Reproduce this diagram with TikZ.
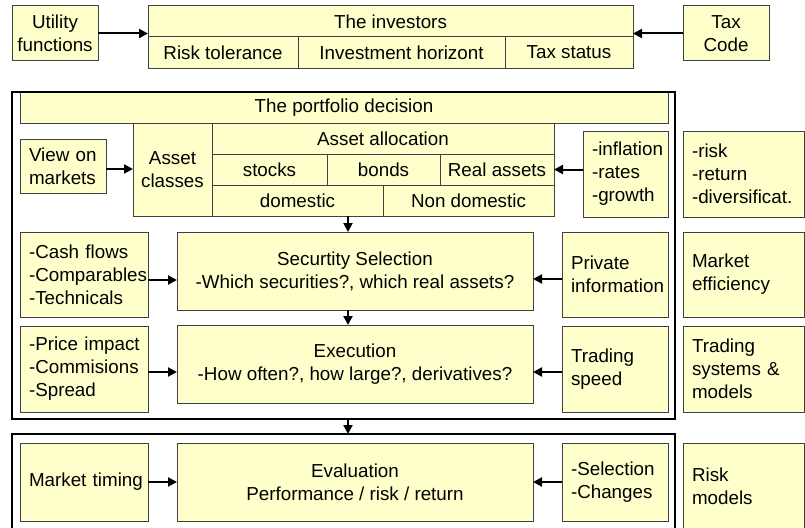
\documentclass[tikz,border=0pt]{standalone}
\usepackage{fontspec}
\setmainfont{Liberation Sans}
\usetikzlibrary{arrows.meta}
\definecolor{boxfill}{HTML}{FFFFCC}
\begin{document}
\begin{tikzpicture}[x=1pt,y=-1pt,
  every node/.style={font=\fontsize{18.8}{23}\selectfont, inner sep=0pt, outer sep=0pt},
  box/.style={draw=black!75, line width=1pt, fill=boxfill, rectangle, align=center,
    execute at begin node={\hyphenpenalty=10000\exhyphenpenalty=10000}},
  lbox/.style={box, align=left, inner xsep=9pt},
  frame/.style={draw=black, line width=2.5pt, rectangle},
  arr/.style={line width=2pt, -{Triangle[length=9pt,width=9pt]}}
]
\useasboundingbox[fill=white] (0,0) rectangle (805,527);
\clip (0,0) rectangle (805,527);

% investors row
\node[box, minimum width=86pt, minimum height=55pt] (util) at (55,33.5) {Utility\\functions};
\node[box, minimum width=86pt, minimum height=55pt] (tax) at (726,33.5) {Tax\\Code};
\node[box, minimum width=485pt, minimum height=31pt] (invtitle) at (390.5,21.5) {The investors};
\node[box, minimum width=150pt, minimum height=31pt] (risktol) at (223,52.5) {Risk tolerance};
\node[box, minimum width=207pt, minimum height=31pt] (horizon) at (401.5,52.5) {Investment horizont};
\node[box, minimum width=128pt, minimum height=31pt] (taxstat) at (569,52.5) {Tax status};

% portfolio decision block
\node[box, minimum width=648pt, minimum height=31pt] (pdec) at (344,107.5) {The portfolio decision};
\node[box, minimum width=79pt, minimum height=93pt] (classes) at (172.5,169.5) {Asset\\classes};
\node[box, minimum width=342pt, minimum height=31pt] (alloc) at (383,138.5) {Asset allocation};
\node[box, minimum width=115pt, minimum height=31pt] (stocks) at (269.5,169.5) {stocks};
\node[box, minimum width=113pt, minimum height=31pt] (bonds) at (383.5,169.5) {bonds};
\node[box, minimum width=114pt, minimum height=31pt] (real) at (497,169.5) {Real assets};
\node[box, minimum width=171pt, minimum height=31pt] (domestic) at (297.5,200.5) {domestic};
\node[box, minimum width=171pt, minimum height=31pt] (nondom) at (468.5,200.5) {Non domestic};
\node[lbox, text width=68pt, minimum height=54pt] (view) at (63,166) {View~on\\markets};
\node[lbox, text width=67pt, minimum height=86pt] (infl) at (625.5,174) {-inflation\\-rates\\-growth};

\node[lbox, text width=110pt, minimum height=85pt] (cash) at (84,274.5) {-Cash~flows\\-Comparables\\-Technicals};
\node[box, minimum width=356pt, minimum height=78pt] (sec) at (355,271) {Securtity Selection\\-Which securities?, which real assets?};
\node[lbox, text width=88pt, minimum height=85pt] (priv) at (615,274.5) {Private\\information};

\node[lbox, text width=110pt, minimum height=86pt] (price) at (84,369) {-Price~impact\\-Commisions\\-Spread};
\node[box, minimum width=356pt, minimum height=78pt] (exec) at (355,364) {Execution\\-How often?, how large?, derivatives?};
\node[lbox, text width=88pt, minimum height=86pt] (speed) at (615,369) {Trading\\speed};

% evaluation block
\node[lbox, text width=110pt, minimum height=78pt] (timing) at (84,482) {Market~timing};
\node[box, minimum width=356pt, minimum height=78pt] (eval) at (355,482) {Evaluation\\Performance / risk / return};
\node[lbox, text width=88pt, minimum height=78pt] (selch) at (615,482) {-Selection\\-Changes};

% right-hand column
\node[lbox, text width=103pt, minimum height=86pt] (riskr) at (743.5,174) {-risk\\-return\\-diversificat.};
\node[lbox, text width=103pt, minimum height=85pt] (mkteff) at (743.5,274.5) {Market\\efficiency};
\node[lbox, text width=103pt, minimum height=86pt] (tradsys) at (743.5,369) {Trading\\systems~\&\\models};
\node[lbox, text width=103pt, minimum height=87pt] (riskmod) at (743.5,486.5) {Risk\\models};

% heavy frames around the two stages
\node[frame, minimum width=663pt, minimum height=327pt] (frameA) at (343.5,255.5) {};
\node[frame, minimum width=663pt, minimum height=106pt] (frameB) at (343.5,487) {};

% connectors
\draw[arr] (util.east) -- (invtitle.south west |- util.east);
\draw[arr] (tax.west) -- (invtitle.south east |- tax.west);
\draw[arr] (view.east |- 0,169) -- (classes.west |- 0,169);
\draw[arr] (real.east -| infl.west) -- (real.east);
\draw[arr] (domestic.south -| 348,0) -- (sec.north -| 348,0);
\draw[arr] (cash.east |- 0,280) -- (sec.west |- 0,280);
\draw[arr] (priv.west |- 0,279) -- (sec.east |- 0,279);
\draw[arr] (sec.south -| 348,0) -- (exec.north -| 348,0);
\draw[arr] (price.east |- 0,372) -- (exec.west |- 0,372);
\draw[arr] (speed.west |- 0,372) -- (exec.east |- 0,372);
\draw[arr] (frameA.south -| 348,0) -- (frameB.north -| 348,0);
\draw[arr] (timing.east) -- (eval.west);
\draw[arr] (selch.west) -- (eval.east);
\end{tikzpicture}
\end{document}
